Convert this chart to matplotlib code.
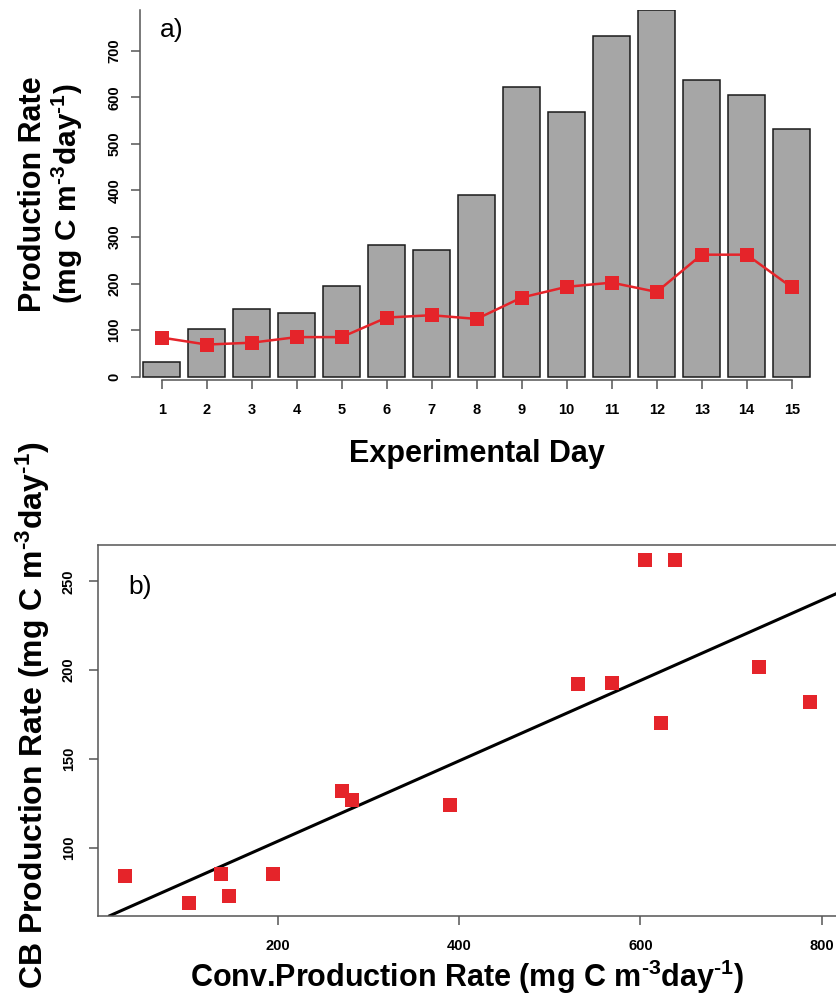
import numpy as np
import matplotlib
matplotlib.use("Agg")
import matplotlib.pyplot as plt

plt.rcParams["font.family"] = ["Liberation Sans", "DejaVu Sans"]
plt.rcParams["mathtext.fontset"] = "custom"
plt.rcParams["mathtext.rm"] = "Liberation Sans:bold"
plt.rcParams["mathtext.it"] = "Liberation Sans:bold"
plt.rcParams["mathtext.bf"] = "Liberation Sans:bold"
plt.rcParams["mathtext.sf"] = "Liberation Sans:bold"
plt.rcParams["mathtext.default"] = "rm"

# data
days = [1, 2, 3, 4, 5, 6, 7, 8, 9, 10, 11, 12, 13, 14, 15]
conv_rate = [31, 102, 146, 137, 195, 282, 271, 390, 623, 569, 731, 787, 638, 605, 531]
cb_rate = [84, 69, 73, 85, 85, 127, 132, 124, 170, 193, 202, 182, 262, 262, 192]
top_yticks = [0, 100, 200, 300, 400, 500, 600, 700]
bot_xticks = [200, 400, 600, 800]
bot_yticks = [100, 150, 200, 250]

W, H = 837, 997
red = "#e5242a"
axcol = "#555555"
unit = "(mg C m$^{\u20103}$day$^{\u20101}$)"

fig = plt.figure(figsize=(W / 100, H / 100), dpi=100)


def box(left, top, right, bottom):
    return [left / W, 1 - bottom / H, (right - left) / W, (bottom - top) / H]


# ---- a) bars + CB line
ax1 = fig.add_axes(box(140, 10, 815, 380))
ax1.bar(days, conv_rate, width=0.83, color="#a6a6a6", edgecolor="#1a1a1a", linewidth=1.1, zorder=2)
ax1.plot(days, cb_rate, color=red, lw=1.8, marker="s", ms=9.4, mew=0, zorder=3)
ax1.set_xlim(0.518, 15.518)
ax1.set_ylim(-7.1, 787.4)
for s in ["top", "right"]:
    ax1.spines[s].set_visible(False)
ax1.spines["left"].set_bounds(0, 787.4)
ax1.spines["bottom"].set_bounds(1, 15)
for s in ["left", "bottom"]:
    ax1.spines[s].set_color(axcol)
    ax1.spines[s].set_linewidth(1.1)
ax1.set_xticks(days)
ax1.set_xticklabels([str(d) for d in days], fontweight="bold", fontsize=10.5)
ax1.set_yticks(top_yticks)
ax1.set_yticklabels([str(v) for v in top_yticks], fontweight="bold", fontsize=10.5,
                    rotation=90, va="center", ha="right")
ax1.tick_params(axis="x", length=6.6, width=1.1, color=axcol, pad=10)
ax1.tick_params(axis="y", length=6.6, width=1.1, color=axcol, pad=6.8)
fig.text(160 / W, 1 - 30 / H, "a)", fontsize=19, ha="left", va="center")

fig.text(41 / W, 1 - 194 / H, "Production Rate", fontsize=22, fontweight="bold",
         rotation=90, rotation_mode="anchor", ha="center", va="baseline")
fig.text(77 / W, 1 - 194 / H, unit, fontsize=21.5, fontweight="bold",
         rotation=90, rotation_mode="anchor", ha="center", va="baseline")
fig.text(477 / W, 1 - 461.7 / H, "Experimental Day", fontsize=22, fontweight="bold",
         ha="center", va="baseline")

# ---- b) scatter + regression
ax2 = fig.add_axes(box(98.3, 545.3, 836.7, 915.7))
ax2.plot(conv_rate, cb_rate, ls="none", marker="s", ms=9.4, mew=0, color=red, zorder=3)
slope, intercept = np.polyfit(conv_rate, cb_rate, 1)
ax2.axline((0, intercept), slope=slope, color="black", lw=2.2, zorder=2)
ax2.set_xlim(2, 816.5)
ax2.set_ylim(61.7, 270.3)
for s in ax2.spines.values():
    s.set_color(axcol)
    s.set_linewidth(1.1)
ax2.set_xticks(bot_xticks)
ax2.set_xticklabels([str(v) for v in bot_xticks], fontweight="bold", fontsize=10.5)
ax2.set_yticks(bot_yticks)
ax2.set_yticklabels([str(v) for v in bot_yticks], fontweight="bold", fontsize=10.5,
                    rotation=90, va="center", ha="right")
ax2.tick_params(axis="x", length=6.6, width=1.1, color=axcol, pad=10.4)
ax2.tick_params(axis="y", length=6.6, width=1.1, color=axcol, pad=9.6)
fig.text(128.3 / W, 1 - 586.7 / H, "b)", fontsize=19, ha="left", va="center")

fig.text(43 / W, 1 - 715.7 / H, "CB Production Rate " + unit, fontsize=23, fontweight="bold",
         rotation=90, rotation_mode="anchor", ha="center", va="baseline")
fig.text(467.5 / W, 1 - 986.7 / H, "Conv.Production Rate " + unit, fontsize=22, fontweight="bold",
         ha="center", va="baseline")

fig.savefig("out.png", dpi=100)
